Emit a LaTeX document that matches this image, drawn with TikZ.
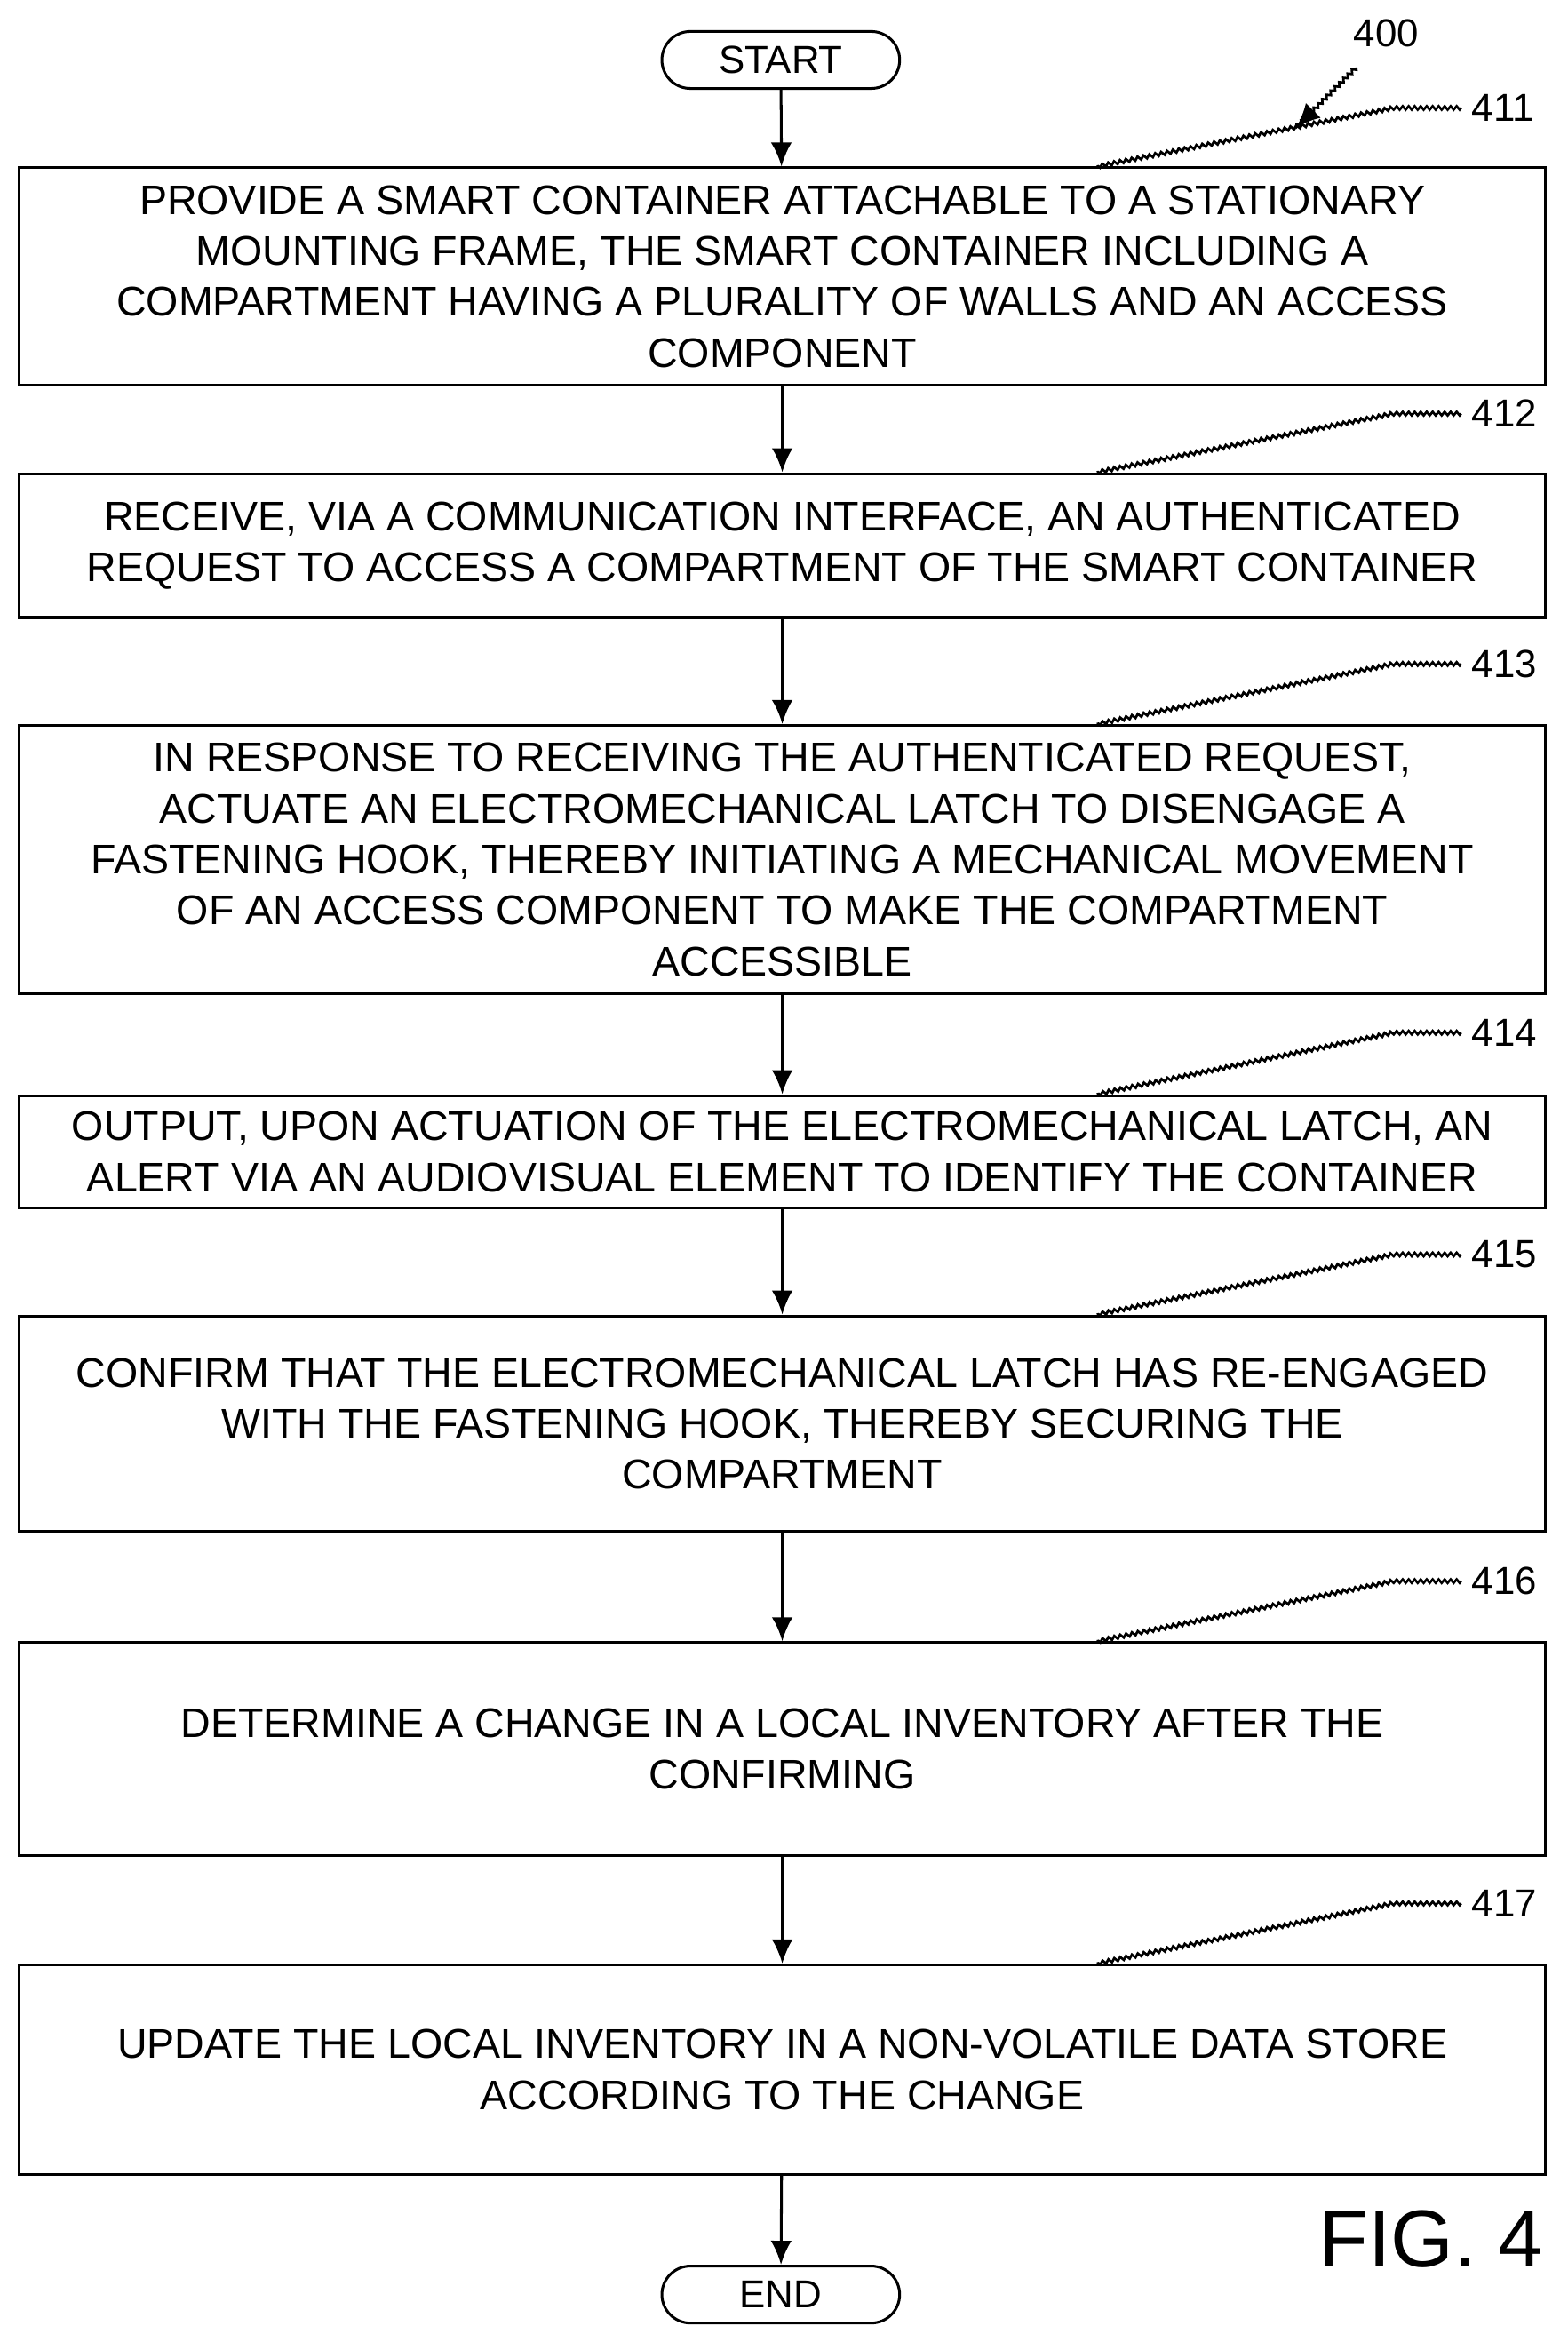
\documentclass[tikz,border=0pt]{standalone}
\usepackage{fontspec}
\setmainfont{Liberation Sans}
\usetikzlibrary{arrows.meta,shapes.misc,decorations.pathmorphing}
\begin{document}
\begin{tikzpicture}[x=0.5pt,y=-0.5pt,
  box/.style={draw,line width=0.9pt,minimum width=509pt,align=center,font=\fontsize{13.8}{17}\selectfont,inner sep=0pt},
  term/.style={draw,line width=0.9pt,rounded rectangle,minimum width=86pt,minimum height=19pt,font=\fontsize{13}{15}\selectfont},
  arr/.style={-{Latex[length=8pt,width=7pt]},line width=0.9pt},
  lead/.style={line width=0.8pt,decorate,decoration={zigzag,amplitude=0.6pt,segment length=2pt}},
  num/.style={font=\fontsize{13}{15}\selectfont}]
\path[use as bounding box] (0,0) rectangle (1046,1568);
\node[term] (start) at (521,40) {START};
\node[box,minimum height=72.5pt] (b1) at (522,184.5) {PROVIDE A SMART CONTAINER ATTACHABLE TO A STATIONARY\\MOUNTING FRAME, THE SMART CONTAINER INCLUDING A\\COMPARTMENT HAVING A PLURALITY OF WALLS AND AN ACCESS\\COMPONENT};
\node[box,minimum height=48pt] (b2) at (522,364) {RECEIVE, VIA A COMMUNICATION INTERFACE, AN AUTHENTICATED\\REQUEST TO ACCESS A COMPARTMENT OF THE SMART CONTAINER};
\node[box,minimum height=89.5pt] (b3) at (522,573.5) {IN RESPONSE TO RECEIVING THE AUTHENTICATED REQUEST,\\ACTUATE AN ELECTROMECHANICAL LATCH TO DISENGAGE A\\FASTENING HOOK, THEREBY INITIATING A MECHANICAL MOVEMENT\\OF AN ACCESS COMPONENT TO MAKE THE COMPARTMENT\\ACCESSIBLE};
\node[box,minimum height=37.5pt] (b4) at (522,768.5) {OUTPUT, UPON ACTUATION OF THE ELECTROMECHANICAL LATCH, AN\\ALERT VIA AN AUDIOVISUAL ELEMENT TO IDENTIFY THE CONTAINER};
\node[box,minimum height=72pt] (b5) at (522,950) {CONFIRM THAT THE ELECTROMECHANICAL LATCH HAS RE-ENGAGED\\WITH THE FASTENING HOOK, THEREBY SECURING THE\\COMPARTMENT};
\node[box,minimum height=71pt] (b6) at (522,1167) {DETERMINE A CHANGE IN A LOCAL INVENTORY AFTER THE\\CONFIRMING};
\node[box,minimum height=70pt] (b7) at (522,1381) {UPDATE THE LOCAL INVENTORY IN A NON-VOLATILE DATA STORE\\ACCORDING TO THE CHANGE};
\node[term] (end) at (521,1531) {END};
\draw[arr] (start) -- (b1);
\draw[arr] (b1) -- (b2);
\draw[arr] (b2) -- (b3);
\draw[arr] (b3) -- (b4);
\draw[arr] (b4) -- (b5);
\draw[arr] (b5) -- (b6);
\draw[arr] (b6) -- (b7);
\draw[arr] (b7) -- (end);
\node[num] (n400) at (925,22) {400};
\coordinate (a400) at (865,85);
\draw[arr,lead] (905,45) -- (a400);
\foreach \n/\y/\b in {411/72/b1,412/276/b2,413/443/b3,414/689/b4,415/837/b5,416/1055/b6,417/1270/b7}{
  \node[num,anchor=west] (l\n) at (975,\y) {\n};
  \draw[lead] (l\n.west) -- (930,\y) -- ([xshift=-150]\b.north east);
}
\node[font=\fontsize{27}{30}\selectfont] (fig) at (955,1494) {FIG. 4};
\end{tikzpicture}
\end{document}
